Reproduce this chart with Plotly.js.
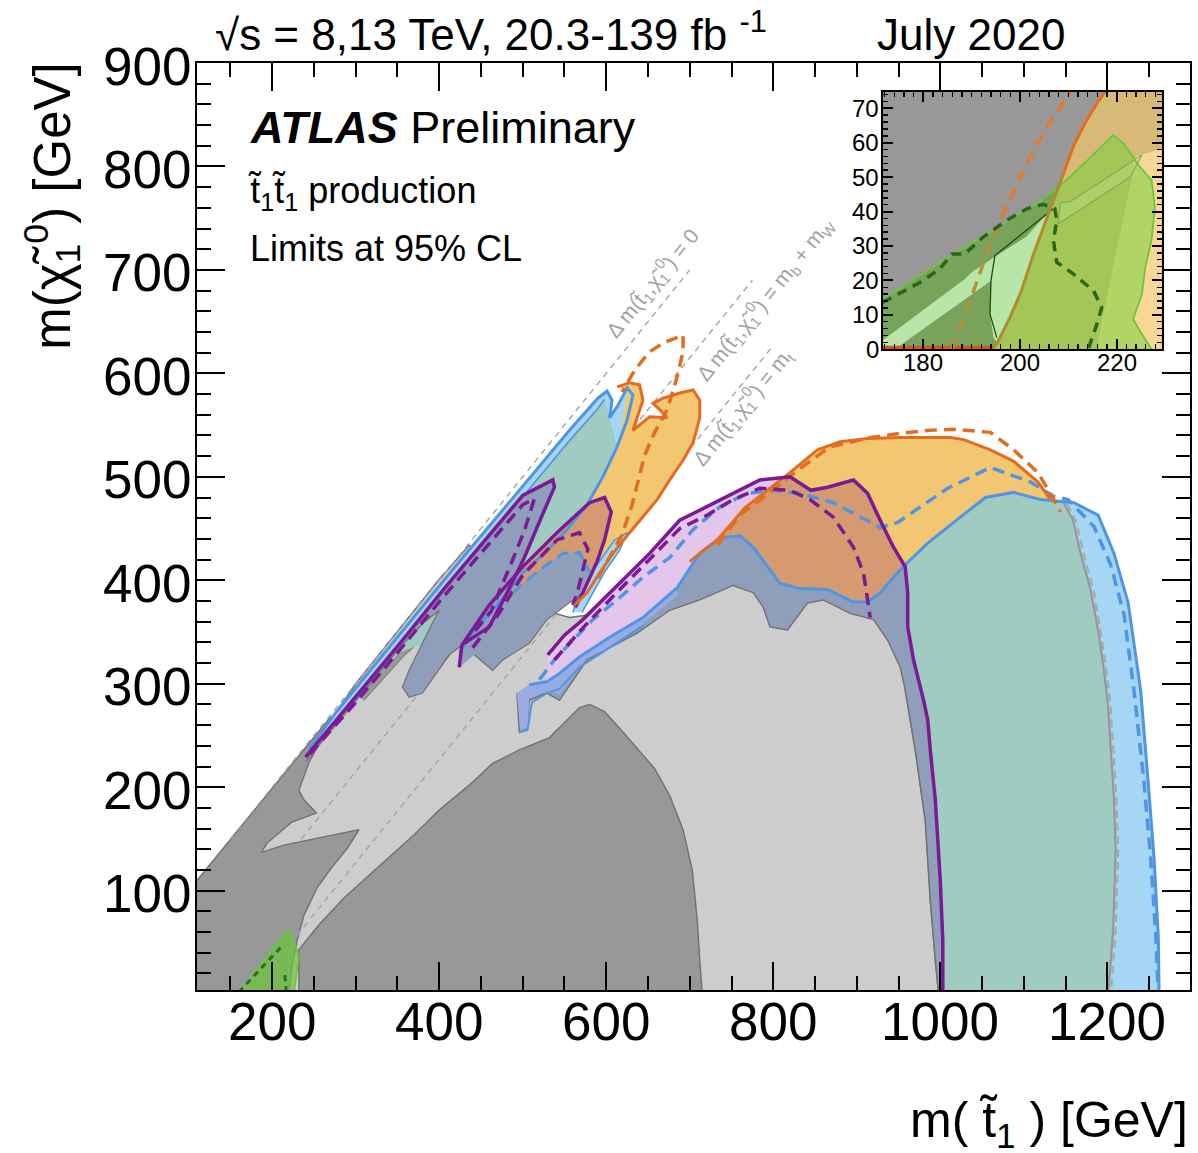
<!DOCTYPE html>
<html><head><meta charset="utf-8">
<script src="https://cdn.plot.ly/plotly-3.0.1.min.js"></script>
<style>html,body{margin:0;padding:0;background:#fff}#chart{width:1198px;height:1153px}</style>
</head><body><div id="chart"></div><script>
// ---------- data (GeV) ----------
const xTickVals = [200, 400, 600, 800, 1000, 1200];
const yTickVals = [100, 200, 300, 400, 500, 600, 700, 800, 900];
const insetXTickVals = [180, 200, 220];
const insetYTickVals = [0, 10, 20, 30, 40, 50, 60, 70];

const dmOffsets = [0, 85, 173];
const dmStart = [150, 235, 180];
const dmEnd = [700, 775, 800];
const dmLabelText = ['Δ m(t̃<sub>1</sub>,χ̃<sub>1</sub><sup>0</sup>) = 0','Δ m(t̃<sub>1</sub>,χ̃<sub>1</sub><sup>0</sup>) = m<sub>b</sub> + m<sub>W</sub>','Δ m(t̃<sub>1</sub>,χ̃<sub>1</sub><sup>0</sup>) = m<sub>t</sub>'];
const dmLabelX = [655, 790, 763];
const dmLabelY = [687, 671, 567];

const lightGray = [[105,0],[105,95],[232,220],[300,300],[399,400],[436,434],[484,391],[526,371],[556,364],[574,366],[616,381],[712,420],[832,420],[952,381],[958,294],[970,236],[982,168],[988,91],[994,33],[998,0]];
const darkGrayLeft = [[100,0],[100,100],[270,268],[259,246],[244,224],[232,197],[238,188],[253,175],[223,166],[194,146],[187,137],[214,144],[256,151],[304,159],[290,141],[271,122],[254,103],[238,76],[230,52],[224,28],[220,0]];
const darkGraySliver = [[304,287],[352,337],[400,362],[392,352],[358,327],[310,284]];
const darkGrayMountain = [[232,0],[232,43],[256,67],[286,93],[316,115],[337,130],[370,154],[400,178],[436,202],[464,223],[496,236],[532,248],[550,263],[568,277],[580,280],[598,273],[616,257],[637,238],[658,218],[676,192],[692,159],[703,120],[709,72],[712,33],[715,0]];
const greenLow = [[160,0],[181,23],[200,43],[220,62],[229,45],[232,36],[229,16],[226,0]];
const greenLowDashA = [[160,2],[185,24],[210,45]];
const greenLowDashB = [[217,2],[215,20]];

const mainOrange = [[733,439],[766,470],[796,489],[820,504],[853,526],[880,534],[913,537],[952,538],[1012,538],[1028,536],[1060,526],[1088,515],[1117,495],[1132,478],[1120,478],[1088,485],[1054,480],[1024,461],[985,436],[958,415],[944,403],[928,388],[913,379],[896,379],[865,391],[832,392],[808,397],[793,413],[776,432],[760,443],[736,441]];
const mainTeal = [[958,415],[985,436],[1024,461],[1054,480],[1088,485],[1120,478],[1147,476],[1159,458],[1168,426],[1180,391],[1189,352],[1196,313],[1201,278],[1208,188],[1210,139],[1207,62],[1201,0],[1003,0],[1003,52],[1000,110],[994,188],[988,236],[985,265],[980,284],[968,323],[961,355],[961,388]];
const mainLightBlue = [[1147,476],[1160,475],[1189,463],[1208,426],[1225,378],[1240,293],[1249,204],[1256,131],[1261,56],[1262,0],[1201,0],[1207,62],[1210,139],[1208,188],[1201,278],[1196,313],[1189,352],[1180,391],[1168,426],[1159,458]];
const mainBlueGray = [[508,299],[529,302],[544,310],[568,326],[604,345],[644,364],[685,393],[712,426],[736,441],[760,443],[776,432],[793,413],[808,397],[832,392],[865,391],[896,379],[913,379],[928,388],[944,403],[958,415],[961,388],[961,355],[968,323],[980,284],[985,265],[988,236],[994,188],[1000,110],[1003,52],[1003,0],[998,0],[994,33],[988,91],[982,168],[970,236],[958,294],[952,316],[937,342],[920,362],[892,368],[860,381],[841,378],[817,352],[796,355],[788,374],[776,388],[752,395],[712,381],[676,371],[637,349],[577,323],[544,284],[529,291],[508,284],[505,255],[496,253],[493,291]];
const mainMedBlue = [[493,291],[508,299],[529,302],[544,310],[568,326],[604,345],[644,364],[685,393],[685,385],[644,358],[604,335],[577,325],[560,306],[544,290],[529,293],[508,286],[506,258],[497,255]];
const mainLavender = [[530,328],[550,347],[572,362],[604,388],[652,426],[688,458],[721,471],[752,484],[784,497],[820,501],[796,489],[766,470],[733,439],[712,426],[685,393],[644,364],[604,345],[568,326],[544,310],[529,302]];
const mainBrown = [[733,439],[766,470],[796,489],[820,501],[845,487],[865,490],[896,497],[913,484],[928,458],[944,432],[958,415],[944,403],[928,388],[913,379],[896,379],[865,391],[832,392],[808,397],[793,413],[776,432],[760,443],[736,441]];

const stripLightBlue = [[244,236],[277,273],[352,347],[424,418],[496,487],[556,545],[590,576],[601,583],[607,574],[604,557],[614,569],[625,586],[632,579],[625,555],[613,529],[596,500],[577,473],[553,449],[526,426],[500,407],[478,384],[448,357],[427,334],[400,371],[352,336],[300,285],[250,234]];
const stripTeal = [[300,285],[352,337],[406,391],[454,436],[496,477],[556,535],[590,566],[598,575],[604,557],[613,529],[596,500],[577,473],[553,449],[526,426],[500,407],[478,384],[448,357],[427,334],[400,345],[352,330]];
const stripOrange = [[613,587],[628,591],[640,589],[644,574],[637,557],[632,545],[652,558],[673,557],[664,565],[656,571],[668,576],[688,581],[704,584],[712,574],[712,557],[704,533],[692,516],[676,497],[661,478],[644,461],[628,446],[608,426],[592,407],[577,388],[562,376],[532,391],[526,426],[553,449],[577,473],[596,500],[613,529],[620,555],[625,584]];
const stripLobe = [[560,369],[568,391],[589,415],[610,439],[625,446],[616,429],[598,408],[583,386],[571,369]];
const stripP1 = [[240,229],[300,287],[352,338],[406,392],[454,438],[500,482],[536,497],[538,490],[526,468],[502,422],[482,389],[460,355],[430,339],[412,328],[380,291],[364,287],[356,297],[364,313],[392,359],[400,371],[380,358],[352,334],[300,283],[240,225]];
const stripP2 = [[424,316],[427,337],[460,376],[500,413],[541,446],[580,475],[598,480],[606,466],[598,439],[589,418],[572,388],[560,381],[544,371],[529,362],[508,339],[476,323],[464,313],[442,328]];
const stripP2Brown = [[472,378],[500,413],[541,446],[580,475],[598,480],[606,466],[598,439],[589,418],[580,408],[568,427],[548,426],[520,410],[488,388]];

const blueMain = [[508,299],[529,302],[544,310],[568,326],[604,345],[644,364],[685,393],[712,426],[736,441],[760,443],[776,432],[793,413],[808,397],[832,392],[865,391],[896,379],[913,379],[928,388],[944,403],[958,415],[985,436],[1024,461],[1054,480],[1088,485],[1120,478],[1147,476],[1160,475],[1189,463],[1208,426],[1225,378],[1240,293],[1249,204],[1256,131],[1261,56],[1262,0]];
const blueLowEdge = [[496,253],[506,256],[511,282],[529,291],[544,295],[568,316],[604,335],[644,356]];
const blueMainExp = [[520,304],[538,323],[560,342],[584,362],[613,381],[644,403],[676,422],[704,449],[736,471],[769,484],[800,487],[832,484],[872,475],[904,461],[928,451],[949,456],[1009,489],[1060,509],[1108,495],[1136,481],[1153,478],[1184,452],[1204,415],[1220,367],[1232,293],[1244,204],[1252,131],[1258,56],[1261,0]];
const orangeMain = [[700,418],[712,426],[733,439],[766,470],[796,489],[820,504],[853,526],[880,534],[913,537],[952,538],[1012,538],[1028,536],[1060,526],[1088,515],[1117,495],[1132,478]];
const orangeMainExp = [[733,434],[760,463],[796,485],[832,508],[868,529],[916,538],[952,542],[988,545],[1016,546],[1060,543],[1088,526],[1117,504],[1136,478],[1144,466]];
const purpleMain = [[530,328],[550,347],[572,362],[604,388],[652,426],[688,458],[721,471],[752,484],[784,497],[820,500],[845,487],[865,490],[896,497],[913,484],[928,458],[944,432],[958,413],[961,388],[961,355],[968,323],[980,284],[985,265],[988,236],[994,188],[1000,110],[1003,52],[1003,0]];
const purpleMainExp = [[538,323],[572,354],[604,381],[652,420],[688,450],[721,463],[752,478],[784,489],[820,487],[844,478],[872,461],[896,432],[908,407],[913,381],[916,364]];
const grayEdge = [[1147,476],[1159,458],[1168,426],[1180,391],[1189,352],[1196,313],[1201,278],[1208,188],[1210,139],[1207,62],[1201,0]];
const grayEdgeExp = [[1152,474],[1163,456],[1172,424],[1184,389],[1192,350],[1199,312],[1204,277],[1211,187],[1213,139],[1210,62],[1204,0]];

const stripTealEdge = [[300,285],[352,337],[406,391],[454,436],[496,477],[556,535],[590,566],[598,575]];
const stripP1Exp = [[245,232],[300,282],[352,332],[406,385],[454,430],[500,473],[514,479],[502,448],[485,414],[462,370],[442,350]];
const stripP2Edge = [[424,316],[427,337],[460,376],[500,413],[541,446],[580,475],[598,480],[606,466],[598,439],[589,418],[572,388],[563,374]];
const stripP2Exp = [[440,335],[470,366],[500,405],[541,439],[568,446],[578,430],[573,413],[566,390],[560,376]];
const stripOrangeEdge = [[562,376],[577,388],[592,407],[608,426],[628,446],[644,461],[661,478],[676,497],[692,516],[704,533],[712,557],[712,574],[704,584],[688,581],[668,576],[656,571],[664,565],[673,557],[652,558],[632,545],[637,557],[644,574],[640,589],[628,591],[613,587]];
const stripOrangeExp = [[590,402],[604,422],[619,444],[631,473],[638,497],[646,521],[658,543],[673,565],[684,594],[692,621],[692,637],[670,630],[652,621],[634,603],[619,582]];
const stripBlueExp = [[488,388],[520,410],[548,426],[568,427],[580,408]];

// inset (GeV)
const insetBack = [[160,-5],[240,-5],[240,85],[160,85]];
const insetTan = [[194.5,-5],[194.5,0],[195.2,1.5],[197.9,9.2],[200.3,17],[202.8,27.7],[204.8,35.5],[206.9,43.2],[209,51],[211,58.8],[213.4,65.6],[215.9,71.4],[217.6,74.8],[218.6,80],[240,80],[240,-5]];
const insetBeige = [[224,56],[240,63],[240,-5],[215,-5]];
const insetGreen = [[165,9.5],[171.6,14.6],[186.9,28.2],[197.2,36.9],[204.1,42.8],[210.3,50],[219.3,62.2],[221.4,59.8],[224.8,53],[227.2,49.1],[227.9,41.3],[227.2,31.6],[225.9,23.8],[225.2,16],[223.4,8.7],[225.2,4.4],[227.2,0],[227.5,-5],[165,-5]];
const insetOlive = [[165,9.5],[171.6,14.6],[186.9,28.2],[197.2,36.9],[204.1,42.8],[208.6,48.1],[206.9,43.2],[204.8,35.5],[202.8,27.7],[200.3,17],[197.9,9.2],[195.2,1.5],[194.5,0],[194.3,-5],[165,-5]];
const insetLightGreen = [[165,-4.5],[171.6,2.6],[188.6,20.4],[190,22.4],[195.2,27.2],[201.4,32.8],[206.9,41.5],[204.1,32.6],[201.4,21.9],[198.3,10.2],[195.5,1.5],[194.5,3.4],[193.8,10.2],[194,19.9],[174.1,0],[169,-5]];
const insetBox = [[207.9,36.4],[222.8,50],[225.2,56.4],[210.3,42.8],[208.3,42.5],[207.9,36.4]];
const insetDarkDash = [[171.6,13.6],[179.3,19.4],[183.4,23.3],[185.9,27.7],[188.6,27.7],[192.4,32.6],[197.2,37.4],[201.4,40.8],[204.8,42.1],[207.2,40.8],[207.6,37.4],[206.9,31.6],[207.6,25.3],[211,21.9],[215.2,17],[216.9,12.1],[215.9,7.3],[214.1,0]];
const insetThin = [[206.9,40.8],[194.8,27.2],[194,19.9],[193.8,10.2],[195.2,3.4]];
const insetOrangeLow = [[171.6,0.5],[194.5,0.5]];
const insetOrangeSolidIn = [[194.5,0.5],[195.2,1.5],[197.9,9.2],[200.3,17],[202.8,27.7],[204.8,35.5],[206.9,43.2],[209,51]];
const insetOrangeSolidOut = [[209,51],[211,58.8],[213.4,65.6],[215.9,71.4],[217.6,74.8],[218.6,78]];
const insetOrangeDashIn = [[185.9,0],[189.7,14.1],[193.1,27.7],[196.3,38.3]];
const insetOrangeDashOut = [[196.3,38.3],[197.2,41.3],[201.4,53.9],[205.5,64.6],[210.3,74.3],[211,77]];

// ---------- colours ----------
const C = {dg:'#989898', lg:'#cdcdcd', gout:'#707070', lb:'#a5d7f4', teal:'#a0cbc0', or:'#f3c772', brown:'#d69a70',
  lav:'#e3c6ea', bg:'#8f9fbb', mb:'#99abe4', blue:'#4f95e6', orL:'#e46c1e', pur:'#7a1a94'};

function poly(pts, fill, lc, lw, ax, ay){
  return {type:'scatter', mode:'lines', x:pts.map(p=>p[0]), y:pts.map(p=>p[1]), fill:'toself', fillcolor:fill,
    line:{color:lc||'rgba(0,0,0,0)', width:lw||0}, xaxis:ax||'x', yaxis:ay||'y', hoverinfo:'skip', showlegend:false};
}
function path(pts, color, width, dash, ax, ay){
  return {type:'scatter', mode:'lines', x:pts.map(p=>p[0]), y:pts.map(p=>p[1]),
    line:{color:color, width:width, dash:dash||'solid'}, xaxis:ax||'x', yaxis:ay||'y', hoverinfo:'skip', showlegend:false};
}
const DASH = '12px,7px';
const traces = [];
traces.push(poly(lightGray, C.lg, C.gout, 1.4));
traces.push(poly(darkGrayLeft, C.dg, C.gout, 1.4));
traces.push(poly(darkGraySliver, C.dg, C.gout, 1));
traces.push(poly(darkGrayMountain, C.dg, C.gout, 1.4));
for (let i=0;i<dmOffsets.length;i++){
  const xs=[dmStart[i], dmEnd[i]];
  traces.push(path(xs.map(v=>[v, v-dmOffsets[i]]), '#a4a4a4', 1.4, '6px,5px'));
}
traces.push(poly(greenLow, 'rgba(105,200,55,0.7)', '#6cc63c', 1.5));
traces.push(path(greenLowDashA, '#2f6e1c', 3, '6px,5px'));
traces.push(path(greenLowDashB, '#2f6e1c', 3, '6px,5px'));
// main blob
traces.push(poly(mainOrange, C.or));
traces.push(poly(mainTeal, C.teal));
traces.push(poly(mainLightBlue, C.lb));
traces.push(poly(mainBlueGray, C.bg, C.gout, 1.4));
traces.push(poly(mainMedBlue, C.mb));
traces.push(poly(mainLavender, C.lav));
traces.push(poly(mainBrown, C.brown));
// left strip
traces.push(poly(stripLightBlue, C.lb));
traces.push(poly(stripTeal, C.teal));
traces.push(poly(stripOrange, C.or));
traces.push(poly(stripLobe, C.lb, C.blue, 1.5));
traces.push(poly(stripP1, C.bg, C.gout, 1.2));
traces.push(poly(stripP2, C.bg, C.gout, 1.2));
traces.push(poly(stripP2Brown, C.brown));
// lines main
traces.push(path(grayEdge, '#979797', 2.2));
traces.push(path(grayEdgeExp, '#a8a8a8', 2.2, '8px,5px'));
traces.push(path(blueMain, C.blue, 3));
traces.push(path(blueLowEdge, C.blue, 2));
traces.push(path(blueMainExp, C.blue, 3.5, DASH));
traces.push(path(orangeMain, C.orL, 3));
traces.push(path(orangeMainExp, C.orL, 3.5, DASH));
traces.push(path(purpleMain, C.pur, 3.5));
traces.push(path(purpleMainExp, C.pur, 3.5, DASH));
// lines strip
traces.push(path(stripLightBlue.slice(0,23), C.blue, 3));
traces.push(path(stripTealEdge, C.blue, 1.6));
traces.push(path(stripP1.slice(0,13), C.pur, 3.5));
traces.push(path(stripP1Exp, C.pur, 3.5, DASH));
traces.push(path(stripP2Edge, C.pur, 3.5));
traces.push(path(stripP2Exp, C.pur, 3.5, DASH));
traces.push(path(stripOrangeEdge, C.orL, 3));
traces.push(path(stripOrangeExp, C.orL, 3.5, DASH));
traces.push(path(stripBlueExp, C.blue, 3, DASH));
// inset
const IX='x2', IY='y2';
traces.push(poly(insetBack, C.dg, null, 0, IX, IY));
traces.push(poly(insetTan, '#d7b978', null, 0, IX, IY));
traces.push(poly(insetBeige, '#f6d796', null, 0, IX, IY));
traces.push(poly(insetGreen, 'rgba(120,210,60,0.55)', null, 0, IX, IY));
traces.push(poly(insetOlive, '#77a35a', null, 0, IX, IY));
traces.push(poly(insetLightGreen, '#b8e6a8', null, 0, IX, IY));
traces.push(poly(insetBox, 'rgba(200,230,150,0.3)', '#86a654', 1.2, IX, IY));
traces.push(path(insetGreen.slice(0,17), '#6cc63c', 1.8, 'solid', IX, IY));
traces.push(path(insetThin, '#1d4d10', 1.3, 'solid', IX, IY));
traces.push(path(insetOrangeSolidIn, '#b08a2c', 3, 'solid', IX, IY));
traces.push(path(insetOrangeSolidOut, C.orL, 3, 'solid', IX, IY));
traces.push(path(insetOrangeLow, '#d8561a', 3.5, 'solid', IX, IY));
traces.push(path(insetOrangeDashIn, '#b8903a', 3.5, '12px,8px', IX, IY));
traces.push(path(insetOrangeDashOut, '#e8792c', 3.5, '12px,8px', IX, IY));
traces.push(path(insetDarkDash, '#2f6418', 3.5, '10px,7px', IX, IY));

// ---------- layout ----------
const FONT = 'Liberation Sans, Arial, Helvetica, sans-serif';
const annotations = [
  {xref:'paper', yref:'paper', x:0.0161, y:1.034, xanchor:'left', yanchor:'middle', text:'√s = 8,13 TeV, 20.3-139 fb <sup>-1</sup>', font:{size:44}, showarrow:false},
  {xref:'paper', yref:'paper', x:0.6828, y:1.031, xanchor:'left', yanchor:'middle', text:'July 2020', font:{size:44}, showarrow:false},
  {xref:'paper', yref:'paper', x:0.0514, y:0.9299, xanchor:'left', yanchor:'middle', text:'<b><i>ATLAS</i></b> Preliminary', font:{size:45}, showarrow:false},
  {xref:'paper', yref:'paper', x:0.0493, y:0.860, xanchor:'left', yanchor:'middle', text:'t̃<sub>1</sub>t̃<sub>1</sub> production', font:{size:36}, showarrow:false},
  {xref:'paper', yref:'paper', x:0.0514, y:0.8004, xanchor:'left', yanchor:'middle', text:'Limits at 95% CL', font:{size:36}, showarrow:false},
  {xref:'paper', yref:'paper', x:-0.146, y:0.846, xanchor:'center', yanchor:'middle', textangle:-90, text:'m(χ̃<sub>1</sub><sup>0</sup>) [GeV]', font:{size:51}, showarrow:false},
  {xref:'paper', yref:'paper', x:1.0, y:-0.144, xanchor:'right', yanchor:'middle', text:'m( t̃<sub>1</sub> ) [GeV]', font:{size:50}, showarrow:false}
];
for (let i=0;i<dmLabelText.length;i++){
  annotations.push({xref:'x', yref:'y', x:dmLabelX[i], y:dmLabelY[i], text:dmLabelText[i], textangle:-51, showarrow:false, font:{size:21, color:'#a2a2a2'}});
}
xTickVals.forEach(v=>annotations.push({xref:'x', yref:'paper', x:v, y:-0.0345, xanchor:'center', yanchor:'middle', text:String(v), font:{size:53}, showarrow:false}));
yTickVals.forEach(v=>annotations.push({xref:'paper', yref:'y', x:-0.004, y:v, yshift:-3, xanchor:'right', yanchor:'middle', text:String(v), font:{size:53}, showarrow:false}));
insetXTickVals.forEach(v=>annotations.push({xref:'x2', yref:'paper', x:v, y:0.6764, xanchor:'center', yanchor:'middle', text:String(v), font:{size:24}, showarrow:false}));
insetYTickVals.forEach(v=>annotations.push({xref:'paper', yref:'y2', x:0.6885, y:v, xanchor:'right', yanchor:'middle', text:String(v), font:{size:24}, showarrow:false}));

const axBase = {showgrid:false, zeroline:false, showline:true, linewidth:2, linecolor:'#000', mirror:'ticks', ticks:'inside', tickwidth:2, tickcolor:'#000', showticklabels:false};
const layout = {
  width:1198, height:1153, margin:{l:197, r:8, t:63, b:163},
  paper_bgcolor:'#fff', plot_bgcolor:'rgba(0,0,0,0)', showlegend:false, hovermode:false,
  font:{family:FONT, color:'#000'},
  xaxis:Object.assign({}, axBase, {range:[110,1299], dtick:200, tick0:0, ticklen:28,
    minor:{ticks:'inside', ticklen:14, tickwidth:2, tickcolor:'#000', dtick:50, tick0:0, showgrid:false}}),
  yaxis:Object.assign({}, axBase, {range:[4,900], dtick:100, tick0:0, ticklen:28,
    minor:{ticks:'inside', ticklen:14, tickwidth:2, tickcolor:'#000', dtick:20, tick0:0, showgrid:false}}),
  xaxis2:Object.assign({}, axBase, {domain:[0.6905,0.9715], anchor:'y2', range:[171.6,229.3], dtick:20, tick0:0, ticklen:10,
    minor:{ticks:'inside', ticklen:5, tickwidth:1.5, tickcolor:'#000', dtick:2, tick0:0, showgrid:false}}),
  yaxis2:Object.assign({}, axBase, {domain:[0.6912,0.9690], anchor:'x2', range:[0,74.8], dtick:10, tick0:0, ticklen:10,
    minor:{ticks:'inside', ticklen:5, tickwidth:1.5, tickcolor:'#000', dtick:2, tick0:0, showgrid:false}}),
  annotations:annotations
};
Plotly.newPlot('chart', traces, layout, {staticPlot:true, displayModeBar:false});
</script></body></html>
